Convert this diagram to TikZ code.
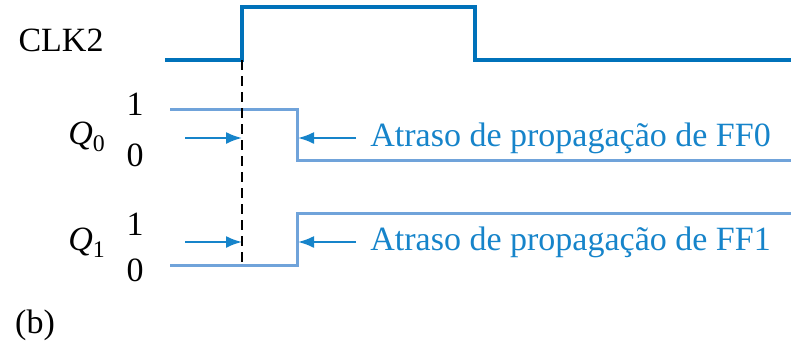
\documentclass[tikz,border=0pt]{standalone}
\usepackage{fontspec}
\setmainfont{Liberation Serif}
\usetikzlibrary{arrows.meta,positioning}
\definecolor{ClkClr}{RGB}{0,114,186}
\definecolor{WaveClr}{RGB}{112,163,218}
\definecolor{NoteClr}{RGB}{22,132,202}

\begin{document}
\begin{tikzpicture}[x=0.5pt,y=-0.5pt,
  clk/.style={line width=1.6pt,color=ClkClr},
  wave/.style={line width=1.5pt,color=WaveClr},
  delay/.style={line width=1pt,color=NoteClr,-{Latex[length=8pt,width=6pt]}},
  note/.style={text=NoteClr,font=\rmfamily\fontsize{17}{19}\selectfont,anchor=west,inner sep=0pt},
  lbl/.style={font=\rmfamily\fontsize{17}{19}\selectfont,inner sep=0pt}]
\useasboundingbox (0,0) rectangle (791,349);

% Signal names and levels
\node[lbl] (clkname) at (61,40) {CLK2};
\node[lbl] (qzero) at (87,137) {$\textit{Q}_{\mathrm{0}}$};
\node[lbl] (qzhi) at (135,104) {1};
\node[lbl] (qzlo) at (135,155) {0};
\node[lbl] (qone) at (87,243) {$\textit{Q}_{\mathrm{1}}$};
\node[lbl] (qohi) at (135,224) {1};
\node[lbl] (qolo) at (135,270) {0};
\node[lbl] (tag) at (35,325) {(b)};

% Waveforms
\coordinate (clkrise) at (242,60);
\draw[clk] (165,60) -- (clkrise) -- (242,7) -- (475,7) -- (475,60) -- (791,60);
\draw[wave] (170,109) -- (297,109) -- (297,160) -- (791,160);
\draw[wave] (170,265) -- (297,265) -- (297,213) -- (791,213);

% Clock edge
\coordinate (dashend) at (242,262);
\draw[line width=0.9pt,dash pattern=on 5pt off 3pt] (clkrise) -- (dashend);

% Propagation delays
\coordinate (leadzero) at (185,138);
\coordinate (edgezero) at (242,138);
\coordinate (fallzero) at (298,138);
\coordinate (leadone) at (185,242);
\coordinate (edgeone) at (242,242);
\coordinate (riseone) at (298,242);

\node[note] (notezero) at (370,138) {Atraso de propagação de FF0};
\node[note] (noteone) at (370,242) {Atraso de propagação de FF1};

\draw[delay] (leadzero) -- (edgezero);
\draw[delay] (leadone) -- (edgeone);
\draw[delay,shorten <=7pt] (notezero) -- (fallzero);
\draw[delay,shorten <=7pt] (noteone) -- (riseone);

\end{tikzpicture}
\end{document}
